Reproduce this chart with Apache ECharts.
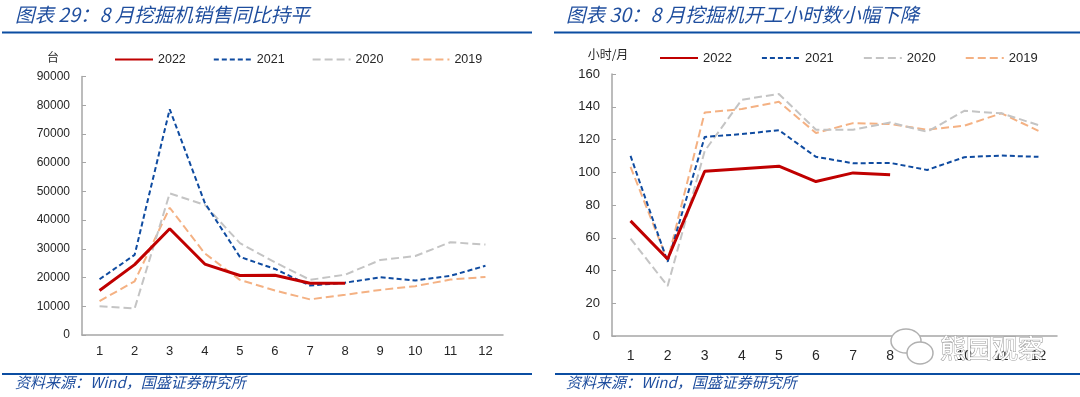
<!DOCTYPE html>
<html>
<head>
<meta charset="utf-8">
<script src="https://cdn.jsdelivr.net/npm/echarts@6/dist/echarts.min.js"></script>
<style>
html, body { margin: 0; padding: 0; background: #fff; }
#main { width: 1080px; height: 397px; }
</style>
</head>
<body>
<div id="main"></div>
<script>
// 月份
var months = ['1', '2', '3', '4', '5', '6', '7', '8', '9', '10', '11', '12'];
var years = ['2022', '2021', '2020', '2019'];

// 挖掘机销量（台）
var sales2022 = [15500, 24500, 37000, 24700, 20700, 20800, 18000, 18000];
var sales2021 = [19400, 27900, 78600, 46000, 27200, 23000, 17200, 18200, 20100, 19000, 20600, 24100];
var sales2020 = [10000, 9200, 49300, 45300, 32000, 25300, 19200, 21000, 26100, 27500, 32300, 31500];
var sales2019 = [11800, 18700, 44300, 28400, 19200, 15500, 12400, 14000, 15700, 17000, 19300, 20200];

// 开工小时数（小时/月）
var hours2022 = [70.3, 47, 100.6, 102.2, 103.7, 94.3, 99.6, 98.4];
var hours2021 = [110, 45.3, 121.6, 123.3, 125.7, 109.4, 105.5, 105.7, 101.4, 109.2, 110.2, 109.4];
var hours2020 = [59.5, 30.5, 113, 144.3, 147.8, 126, 126, 130.4, 124.7, 137.5, 136, 128.8];
var hours2019 = [103.3, 46, 136.5, 138.6, 143, 124, 130, 129.4, 126, 128.4, 136, 125.3];

var titleBlue = '#1F4E9E';
var lineBlue = '#0B4DA2';
var axisGray = '#A6A6A6';
var labelColor = '#262626';
var numFont = 'Liberation Sans';
var cjkFont = 'Noto Sans CJK SC';

var styles = {
	'2022': { color: '#C00000', width: 3, type: 'solid' },
	'2021': { color: '#0F4BA0', width: 2, type: [5, 3] },
	'2020': { color: '#C4C4C4', width: 2, type: [8, 4] },
	'2019': { color: '#F4B183', width: 2, type: [8, 4] }
};

function makeSeries(name, data, idx) {
	var s = styles[name];
	return {
		name: name,
		type: 'line',
		xAxisIndex: idx,
		yAxisIndex: idx,
		symbol: 'none',
		data: data,
		itemStyle: { color: s.color },
		lineStyle: { color: s.color, width: s.width, type: s.type },
		z: name == '2022' ? 5 : 2
	};
}

function makeX(idx, size, margin) {
	return {
		type: 'category',
		gridIndex: idx,
		data: months,
		boundaryGap: true,
		axisLine: { lineStyle: { color: axisGray, width: 1.5 } },
		axisTick: { show: false },
		axisLabel: { color: labelColor, fontFamily: numFont, fontSize: size, margin: margin }
	};
}

function makeY(idx, max, interval, size) {
	return {
		type: 'value',
		gridIndex: idx,
		min: 0,
		max: max,
		interval: interval,
		splitLine: { show: false },
		axisLine: { show: true, lineStyle: { color: axisGray, width: 1.5 } },
		axisTick: { show: true, inside: true, length: 4, lineStyle: { color: axisGray } },
		axisLabel: {
			color: labelColor, fontFamily: numFont, fontSize: size, margin: 12,
			formatter: function(v) { return String(v); }
		}
	};
}

function hLine(x1, x2, y) {
	return {
		type: 'line',
		shape: { x1: x1, y1: y, x2: x2, y2: y },
		style: { stroke: lineBlue, lineWidth: 2 }
	};
}

var option = {
	animation: false,
	backgroundColor: '#fff',
	grid: [
		{ left: 82, top: 76.5, width: 421, height: 258.5 },
		{ left: 612, top: 74, width: 445, height: 262 }
	],
	legend: [{
		data: years,
		left: 109,
		top: 48,
		itemWidth: 38,
		itemHeight: 2,
		itemGap: 27,
		itemStyle: { opacity: 0 },
		textStyle: { color: labelColor, fontFamily: numFont, fontSize: 12.5 }
	}, {
		data: years,
		left: 654,
		top: 46.5,
		itemWidth: 38,
		itemHeight: 2,
		itemGap: 29,
		itemStyle: { opacity: 0 },
		textStyle: { color: labelColor, fontFamily: numFont, fontSize: 13 }
	}],
	xAxis: [makeX(0, 13, 10), makeX(1, 14, 13)],
	yAxis: [makeY(0, 90000, 10000, 12), makeY(1, 160, 20, 13)],
	series: [
		makeSeries('2019', sales2019, 0),
		makeSeries('2020', sales2020, 0),
		makeSeries('2021', sales2021, 0),
		makeSeries('2022', sales2022, 0),
		makeSeries('2019', hours2019, 1),
		makeSeries('2020', hours2020, 1),
		makeSeries('2021', hours2021, 1),
		makeSeries('2022', hours2022, 1)
	],
	graphic: [
		{
			type: 'text', left: 15, top: 5,
			style: { text: '图表 29：8 月挖掘机销售同比持平', fill: titleBlue, fontFamily: cjkFont, fontStyle: 'italic', fontSize: 19.5 }
		},
		{
			type: 'text', left: 566, top: 5,
			style: { text: '图表 30：8 月挖掘机开工小时数小幅下降', fill: titleBlue, fontFamily: cjkFont, fontStyle: 'italic', fontSize: 19.5 }
		},
		hLine(2, 532, 32.5),
		hLine(554, 1080, 32.5),
		hLine(2, 532, 374),
		hLine(555, 1080, 374),
		{
			type: 'text', left: 15, top: 375,
			style: { text: '资料来源：Wind，国盛证券研究所', fill: titleBlue, fontFamily: cjkFont, fontStyle: 'italic', fontSize: 15 }
		},
		{
			type: 'text', left: 566, top: 375,
			style: { text: '资料来源：Wind，国盛证券研究所', fill: titleBlue, fontFamily: cjkFont, fontStyle: 'italic', fontSize: 15 }
		},
		{
			type: 'text', x: 53, y: 57,
			style: { text: '台', fill: labelColor, fontFamily: cjkFont, fontSize: 12, align: 'center', verticalAlign: 'middle' }
		},
		{
			type: 'text', x: 608, y: 54,
			style: { text: '小时/月', fill: labelColor, fontFamily: cjkFont, fontSize: 12, align: 'center', verticalAlign: 'middle' }
		},
		// 水印
		{
			type: 'ellipse', shape: { cx: 906, cy: 341, rx: 15, ry: 12 },
			style: { fill: '#fff', stroke: '#B0B0B0', lineWidth: 1.5 }, z: 100
		},
		{
			type: 'ellipse', shape: { cx: 920, cy: 353, rx: 13, ry: 11 },
			style: { fill: '#fff', stroke: '#B0B0B0', lineWidth: 1.5 }, z: 101
		},
		{
			type: 'text', x: 940, y: 348, z: 102,
			style: { text: '熊园观察', fill: '#fff', stroke: '#9A9A9A', lineWidth: 1, fontFamily: cjkFont, fontSize: 26, verticalAlign: 'middle' }
		}
	]
};

var chart = echarts.init(document.getElementById('main'));
chart.setOption(option);
</script>
</body>
</html>
